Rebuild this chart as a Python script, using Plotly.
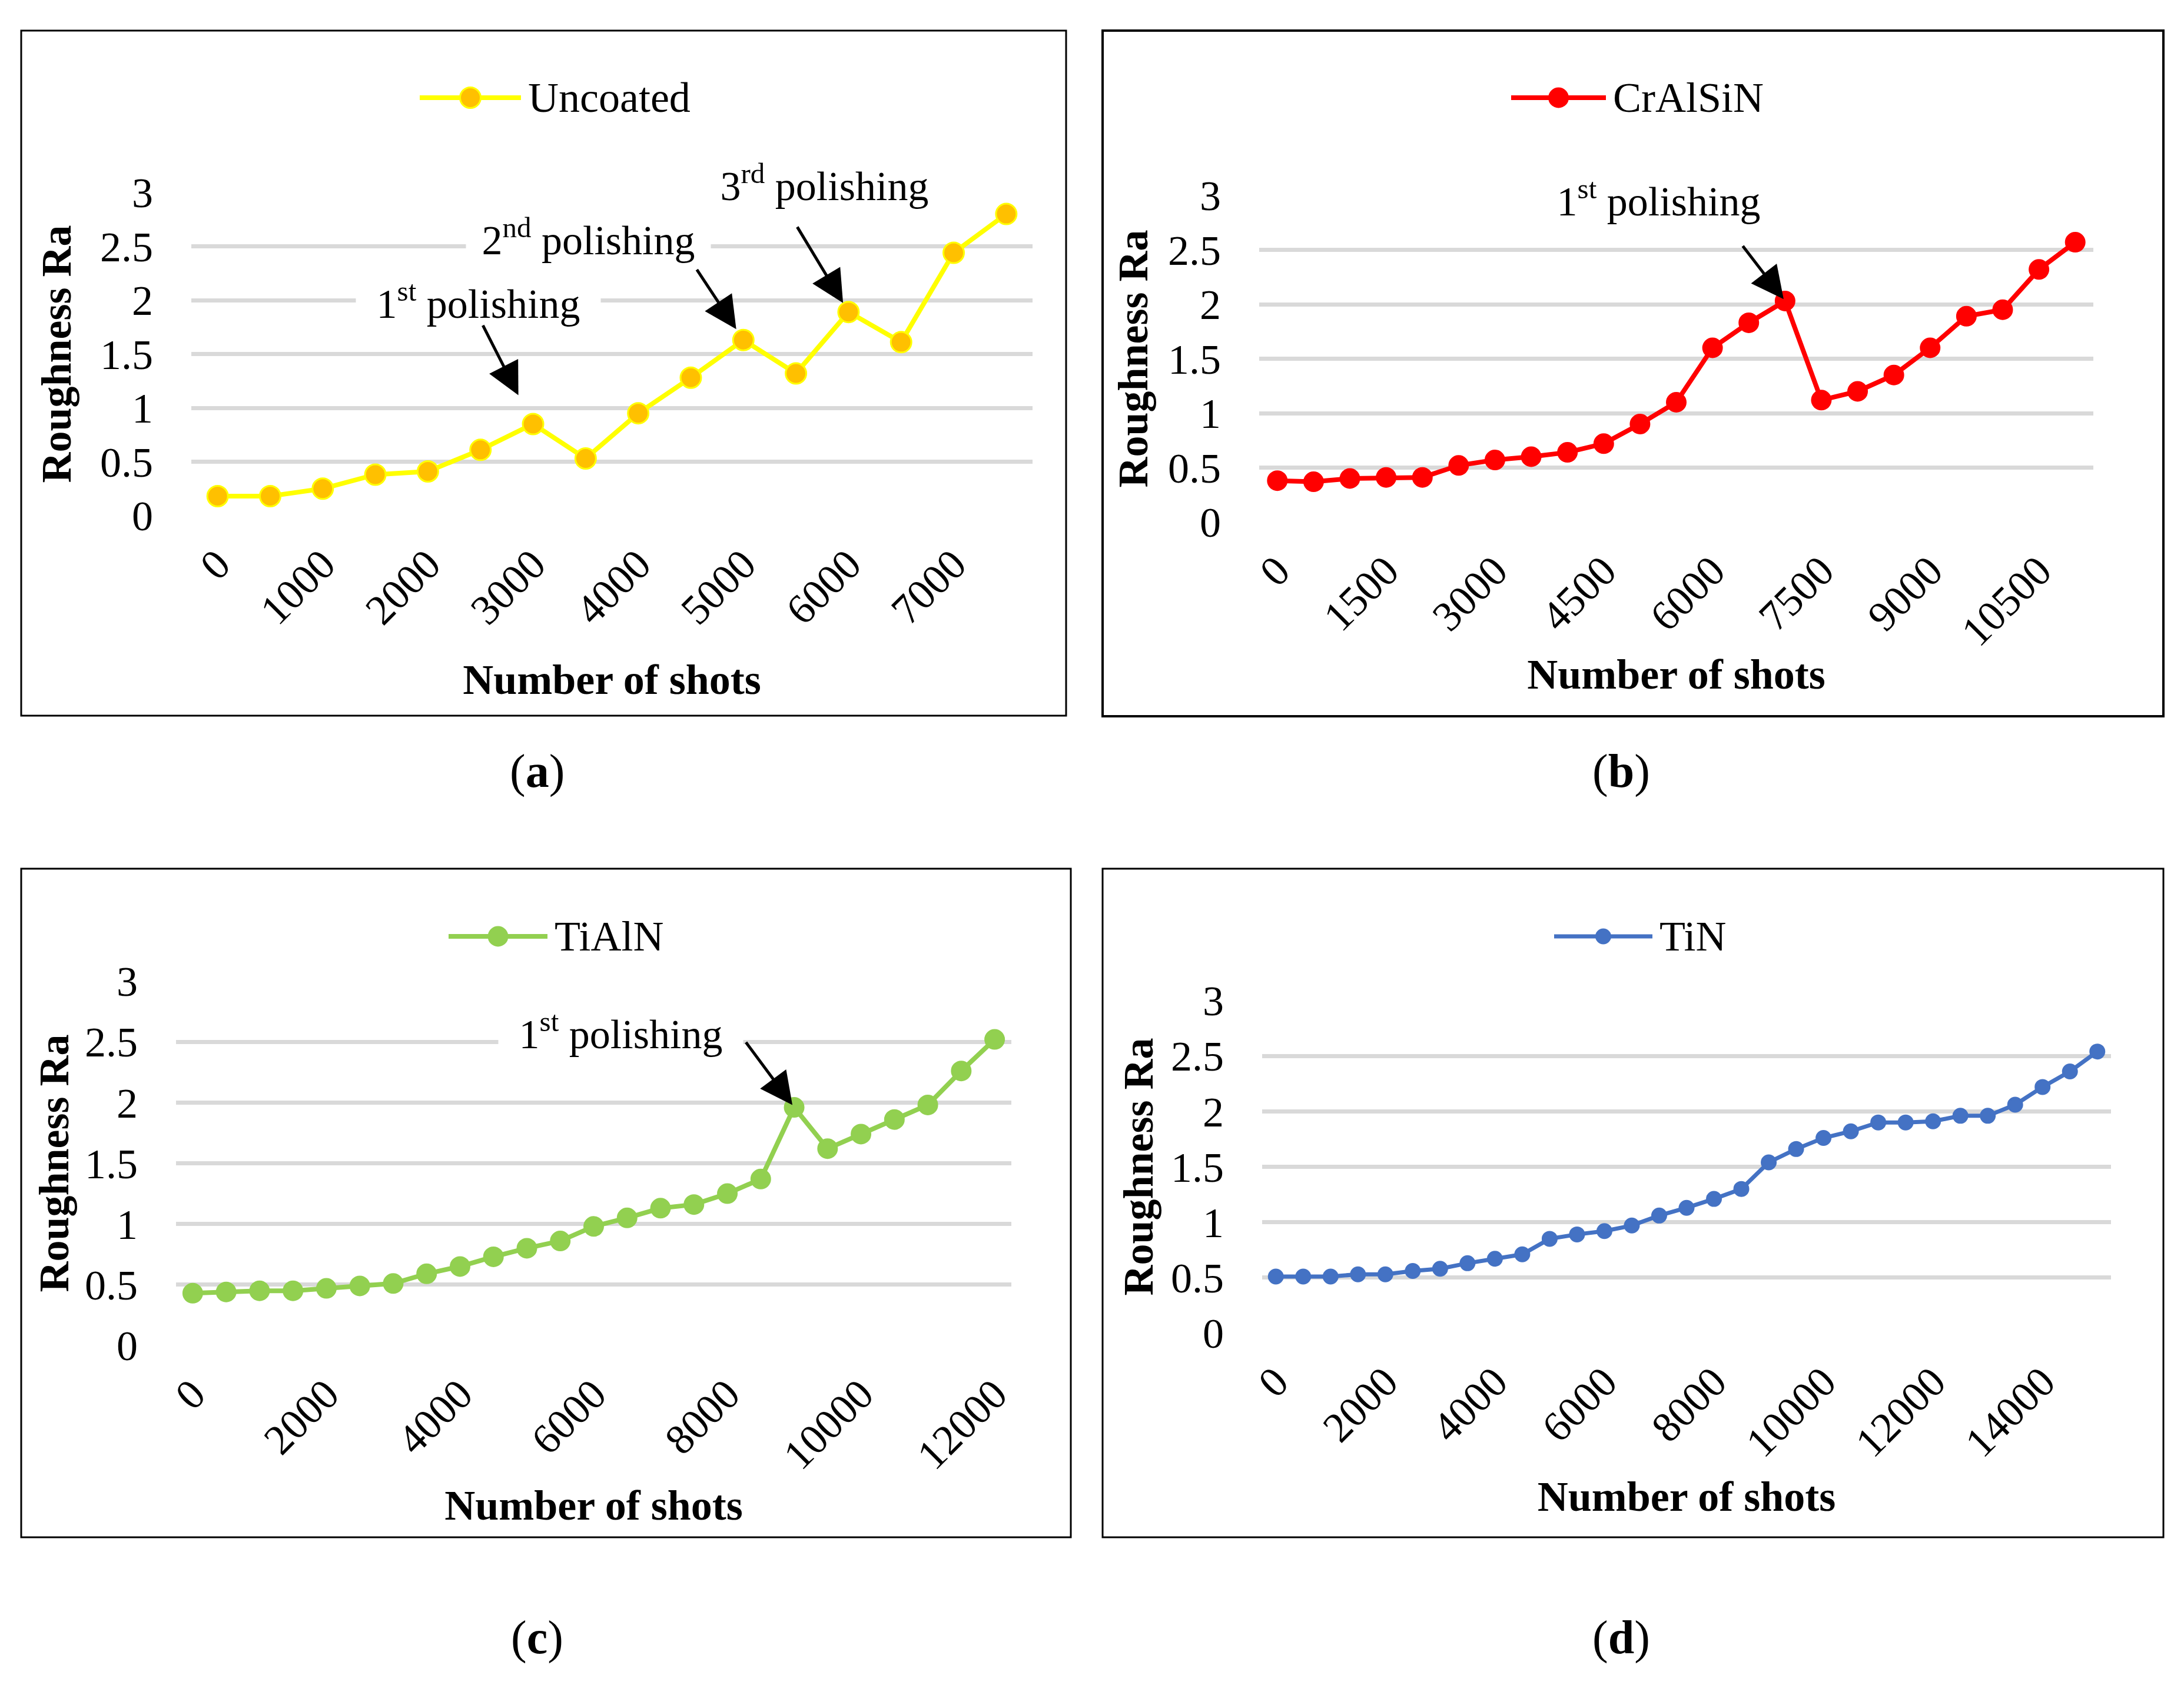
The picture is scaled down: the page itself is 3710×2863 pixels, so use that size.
import plotly.graph_objects as go

W, H = 3710, 2863
FONT = "Liberation Serif"

# ---------------- data ----------------
shots_uncoated = [0, 500, 1000, 1500, 2000, 2500, 3000, 3500, 4000, 4500, 5000, 5500, 6000, 6500, 7000, 7500]
ra_uncoated = [0.18, 0.18, 0.25, 0.38, 0.41, 0.61, 0.85, 0.53, 0.95, 1.28, 1.63, 1.32, 1.89, 1.61, 2.44, 2.80]
ticks_uncoated = [0, 1000, 2000, 3000, 4000, 5000, 6000, 7000]

shots_cralsin = [0, 500, 1000, 1500, 2000, 2500, 3000, 3500, 4000, 4500, 5000, 5500, 6000, 6500, 7000, 7500,
                 8000, 8500, 9000, 9500, 10000, 10500, 11000]
ra_cralsin = [0.38, 0.37, 0.40, 0.41, 0.41, 0.52, 0.57, 0.60, 0.64, 0.72, 0.90, 1.10, 1.60, 1.83, 2.03, 1.12,
              1.20, 1.35, 1.60, 1.89, 1.95, 2.32, 2.57]
ticks_cralsin = [0, 1500, 3000, 4500, 6000, 7500, 9000, 10500]

shots_tialn = [0, 500, 1000, 1500, 2000, 2500, 3000, 3500, 4000, 4500, 5000, 5500, 6000, 6500, 7000, 7500,
               8000, 8500, 9000, 9500, 10000, 10500, 11000, 11500, 12000]
ra_tialn = [0.43, 0.44, 0.45, 0.45, 0.47, 0.49, 0.51, 0.59, 0.65, 0.73, 0.80, 0.86, 0.98, 1.05, 1.13, 1.16,
            1.25, 1.37, 1.96, 1.62, 1.74, 1.86, 1.98, 2.26, 2.52]
ticks_tialn = [0, 2000, 4000, 6000, 8000, 10000, 12000]

shots_tin = [0, 500, 1000, 1500, 2000, 2500, 3000, 3500, 4000, 4500, 5000, 5500, 6000, 6500, 7000, 7500,
             8000, 8500, 9000, 9500, 10000, 10500, 11000, 11500, 12000, 12500, 13000, 13500, 14000, 14500, 15000]
ra_tin = [0.51, 0.51, 0.51, 0.53, 0.53, 0.56, 0.58, 0.63, 0.67, 0.71, 0.85, 0.89, 0.92, 0.97, 1.06, 1.13,
          1.21, 1.30, 1.54, 1.66, 1.76, 1.82, 1.90, 1.90, 1.91, 1.96, 1.96, 2.06, 2.22, 2.36, 2.54]
ticks_tin = [0, 2000, 4000, 6000, 8000, 10000, 12000, 14000]

series_names = ["Uncoated", "CrAlSiN", "TiAlN", "TiN"]
panel_letters = ["a", "b", "c", "d"]
polish_shots = [[3000, 5000, 6000], [7000], [9000], []]
polish_labels = [["1<sup>st</sup> polishing", "2<sup>nd</sup> polishing", "3<sup>rd</sup> polishing"],
                 ["1<sup>st</sup> polishing"], ["1<sup>st</sup> polishing"], []]

y_ticks = [0, 0.5, 1, 1.5, 2, 2.5, 3]


def fx(px):
    return px / W


def fy(py):
    return 1 - py / H


# ---------------- styling / layout (pixels of the 3710x2863 canvas) ----------------
panels = [
    dict(x=shots_uncoated, y=ra_uncoated, ticks=ticks_uncoated, line="#FFFF00", fill="#FFC000", ms=35, lw=8,
         plot=(325, 1754, 327, 876), box=(36, 52, 1811, 1216, 3), ytstand=25, xtstand=53,
         leg=(713, 885, 166), lab=(912, 1311),
         texts=[(812, 511), (1000, 403), (1400, 311)],
         arrows=[(-86, -169, 55), (-80, -121, 22), (-88, -146, 18)]),
    dict(x=shots_cralsin, y=ra_cralsin, ticks=ticks_cralsin, line="#FF0000", fill="#FF0000", ms=32, lw=8,
         plot=(2139, 3556, 332, 887), box=(1873, 52, 3675, 1217, 4), ytstand=10, xtstand=7,
         leg=(2567, 2728, 166), lab=(2754, 1311),
         texts=[(2817, 337)],
         arrows=[(-73, -95, 4)]),
    dict(x=shots_tialn, y=ra_tialn, ticks=ticks_tialn, line="#92D050", fill="#92D050", ms=32, lw=8,
         plot=(299, 1718, 1667, 2286), box=(36, 1476, 1819, 2612, 3), ytstand=3, xtstand=20,
         leg=(762, 930, 1591), lab=(912, 2782),
         texts=[(1054, 1752)],
         arrows=[(-83, -112, 5)]),
    dict(x=shots_tin, y=ra_tin, ticks=ticks_tin, line="#4472C4", fill="#4472C4", ms=24, lw=7,
         plot=(2144, 3586, 1700, 2265), box=(1873, 1476, 3675, 2612, 3), ytstand=6, xtstand=26,
         leg=(2640, 2807, 1591), lab=(2754, 2782),
         texts=[], arrows=[]),
]

fig = go.Figure()
shapes = []
annotations = []
layout_axes = {}

for i, p in enumerate(panels):
    n = "" if i == 0 else str(i + 1)
    xa, ya = "x" + n, "y" + n
    fig.add_trace(go.Scatter(
        x=p["x"], y=p["y"], mode="lines+markers", name=series_names[i],
        xaxis=xa, yaxis=ya, showlegend=False,
        line=dict(color=p["line"], width=p["lw"]),
        marker=dict(size=p["ms"], color=p["fill"], line=dict(color=p["line"], width=3)),
    ))
    x0, x1, ytop, ybot = p["plot"]
    step = p["x"][1] - p["x"][0]
    layout_axes["xaxis" + n] = dict(
        domain=[fx(x0), fx(x1)], anchor=ya, automargin=False,
        range=[p["x"][0] - step / 2, p["x"][-1] + step / 2],
        tickmode="array", tickvals=p["ticks"], ticktext=[str(t) for t in p["ticks"]],
        tickangle=-45, showgrid=False, zeroline=False, showline=False, ticks="",
        tickfont=dict(family=FONT, size=72, color="black"), ticklabelstandoff=25,
        title=dict(text="<b>Number of shots</b>", font=dict(family=FONT, size=72, color="black"),
                   standoff=p["xtstand"]),
        fixedrange=True,
    )
    layout_axes["yaxis" + n] = dict(
        domain=[fy(ybot), fy(ytop)], anchor=xa, range=[0, 3], automargin=False,
        tickmode="array", tickvals=y_ticks, ticktext=[f"{v:g}" for v in y_ticks],
        showgrid=True, gridcolor="#D9D9D9", gridwidth=7, zeroline=False, showline=False, ticks="",
        tickfont=dict(family=FONT, size=72, color="black"), ticklabelstandoff=64,
        title=dict(text="<b>Roughness Ra</b>", font=dict(family=FONT, size=72, color="black"),
                   standoff=p["ytstand"]),
        fixedrange=True,
    )

    # panel frame
    bx0, by0, bx1, by1, bw = p["box"]
    shapes.append(dict(type="rect", xref="paper", yref="paper", x0=fx(bx0), x1=fx(bx1), y0=fy(by1), y1=fy(by0),
                       line=dict(color="black", width=bw), fillcolor="rgba(0,0,0,0)", layer="below"))

    # legend (line sample + marker + text)
    lx0, lx1, ly = p["leg"]
    shapes.append(dict(type="line", xref="paper", yref="paper", x0=fx(lx0), x1=fx(lx1), y0=fy(ly), y1=fy(ly),
                       line=dict(color=p["line"], width=p["lw"])))
    r = p["ms"] / 2
    shapes.append(dict(type="circle", xref="paper", yref="paper", xsizemode="pixel", ysizemode="pixel",
                       xanchor=fx((lx0 + lx1) / 2), yanchor=fy(ly), x0=-r, x1=r, y0=-r, y1=r,
                       fillcolor=p["fill"], line=dict(color=p["line"], width=3)))
    annotations.append(dict(text=series_names[i], xref="paper", yref="paper", x=fx(lx1 + 10), y=fy(ly),
                            xanchor="left", yanchor="middle", showarrow=False,
                            font=dict(family=FONT, size=72, color="black")))

    # panel letter
    lbx, lby = p["lab"]
    annotations.append(dict(text="(<b>" + panel_letters[i] + "</b>)", xref="paper", yref="paper",
                            x=fx(lbx), y=fy(lby), xanchor="center", yanchor="middle", showarrow=False,
                            font=dict(family=FONT, size=80, color="black")))

    # polishing callouts
    for (tx, ty), label in zip(p["texts"], polish_labels[i]):
        annotations.append(dict(text=label, xref="paper", yref="paper", x=fx(tx), y=fy(ty),
                                xanchor="center", yanchor="middle", showarrow=False,
                                bgcolor="white", width=415, height=92, borderpad=0,
                                font=dict(family=FONT, size=70, color="black")))
    for (ax, ay, so), s in zip(p["arrows"], polish_shots[i]):
        k = p["x"].index(s)
        annotations.append(dict(text="", xref=xa, yref=ya, x=p["x"][k], y=p["y"][k],
                                showarrow=True, arrowhead=2, arrowsize=2.2, arrowwidth=5,
                                arrowcolor="black", ax=ax, ay=ay, standoff=so))

fig.update_layout(
    width=W, height=H, margin=dict(l=0, r=0, t=0, b=0, pad=0, autoexpand=False),
    paper_bgcolor="white", plot_bgcolor="white",
    font=dict(family=FONT, color="black"),
    showlegend=False,
    shapes=shapes, annotations=annotations,
    **layout_axes,
)

fig.write_html("out.html", config={"displayModeBar": False},
               post_script="document.body.style.margin='0';")
